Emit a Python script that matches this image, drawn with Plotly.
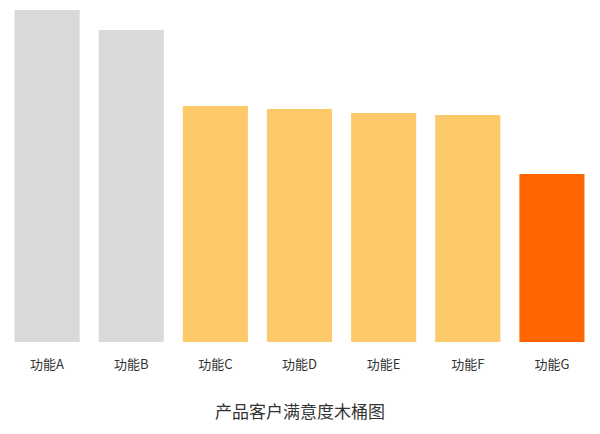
import plotly.graph_objects as go

# barrel chart of customer satisfaction per feature
features = ["功能A", "功能B", "功能C", "功能D", "功能E", "功能F", "功能G"]
scores = [332, 312, 236, 233, 229, 227, 168]
bar_colors = ["#d9d9d9", "#d9d9d9", "#fdca6a", "#fdca6a", "#fdca6a", "#fdca6a", "#ff6600"]
chart_title = "产品客户满意度木桶图"

font_family = "Noto Sans CJK SC, Noto Sans, sans-serif"

fig = go.Figure(
    go.Bar(
        x=features,
        y=scores,
        marker={"color": bar_colors, "line": {"width": 0}},
        hoverinfo="x+y",
    )
)

fig.update_layout(
    width=600,
    height=434,
    margin={"l": 5, "r": 6, "t": 10, "b": 92},
    paper_bgcolor="white",
    plot_bgcolor="white",
    bargap=0.226,
    showlegend=False,
    font={"family": font_family, "color": "#333333", "size": 13},
    annotations=[
        {
            "text": chart_title,
            "xref": "paper",
            "yref": "paper",
            "x": 0.5,
            "y": -0.205,
            "xanchor": "center",
            "yanchor": "middle",
            "showarrow": False,
            "font": {"size": 17, "color": "#333333", "family": font_family},
        }
    ],
)
fig.update_xaxes(
    showgrid=False,
    zeroline=False,
    showline=False,
    ticks="",
    ticklabelstandoff=13,
    tickfont={"size": 13, "color": "#333333"},
)
fig.update_yaxes(
    range=[0, 332],
    showgrid=False,
    zeroline=False,
    showline=False,
    showticklabels=False,
)

# drop the default page margin so the figure sits at the window origin
fig.write_html(
    "out.html",
    config={"displayModeBar": False},
    post_script="document.body.style.margin = '0';",
)
